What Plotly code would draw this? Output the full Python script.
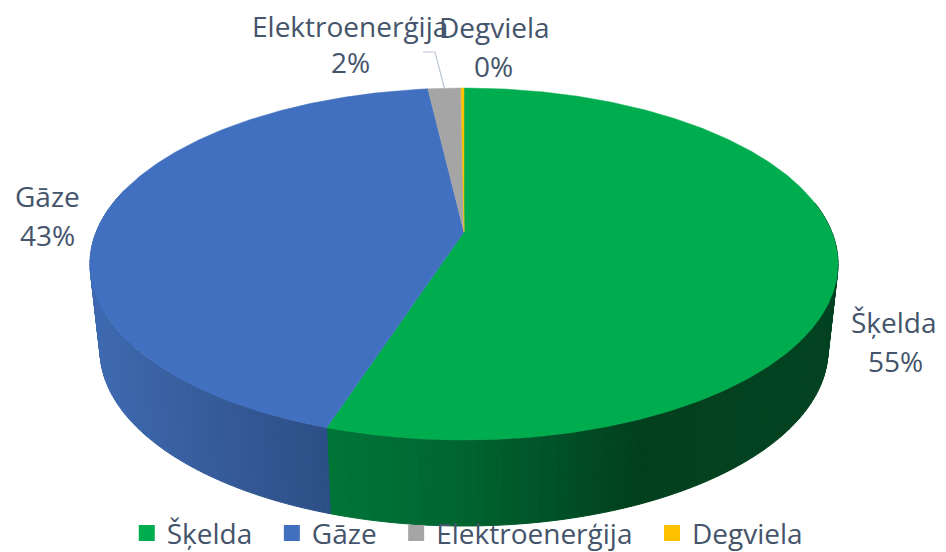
import numpy as np
import plotly.graph_objects as go

categories = ["Šķelda", "Gāze", "Elektroenerģija", "Degviela"]
shares = [55.0, 43.15, 1.7, 0.15]
colors = ["#00AD4E", "#4270C0", "#A5A5A5", "#FFC000"]

# side shading stops: (pixel x, rgb)
side_stops = {
    0: ([330, 450, 550, 640, 750, 840],
        [(0, 117, 56), (0, 102, 50), (0, 82, 40), (2, 63, 29), (3, 66, 32), (3, 66, 32)]),
    1: ([90, 200, 330],
        [(62, 106, 178), (55, 93, 156), (45, 78, 134)]),
}

W, H = 946, 552
K = 2 * 32 / 352          # perspective strength of the tilted disc
CX = 464


def project(theta, rx, cy, ry):
    """Clockwise angle from 12 o'clock on the disc -> page pixels."""
    X, Y = np.sin(theta), np.cos(theta)
    w = 1 + K * Y
    a = rx * np.sqrt(1 - K ** 2)
    x = CX + a * X / w
    u = (ry * Y + ry * K) / w
    return x, cy - u


def top(theta):
    return project(theta, 374, 264, 176)


def bottom(theta):
    return project(theta, 364, 350, 176)


def rgb_at(x, stops):
    xs, cols = stops
    c = [np.interp(x, xs, [col[i] for col in cols]) for i in range(3)]
    return "rgb(%d,%d,%d)" % tuple(round(v) for v in c)


total = sum(shares)
edges = np.cumsum([0] + shares) / total * 2 * np.pi

fig = go.Figure()

# side wall, painted as narrow strips so the shading follows the page x
for i, stops in side_stops.items():
    lo = max(edges[i], np.radians(80))
    hi = min(edges[i + 1], np.radians(285))
    n = max(2, int(np.degrees(hi - lo) / 1.2))
    t = np.linspace(lo, hi, n + 1)
    for a, b in zip(t[:-1], t[1:]):
        seg = np.array([a, b])
        xt, yt = top(seg)
        xb, yb = bottom(seg[::-1])
        col = rgb_at((xt.mean() + xb.mean()) / 2, stops)
        fig.add_trace(go.Scatter(
            x=np.r_[xt, xb, xt[0]], y=np.r_[yt, yb, yt[0]],
            mode="lines", fill="toself", fillcolor=col,
            line=dict(color=col, width=1),
            hoverinfo="skip", showlegend=False))

# top face
cx0, cy0 = CX, 264 - 176 * K
for i, name in enumerate(categories):
    t = np.linspace(edges[i], edges[i + 1], max(3, int(shares[i] * 8)))
    xs, ys = top(t)
    fig.add_trace(go.Scatter(
        x=np.r_[cx0, xs, cx0], y=np.r_[cy0, ys, cy0],
        mode="lines", fill="toself", fillcolor=colors[i],
        line=dict(color=colors[i], width=0.5),
        name=name, hoverinfo="name", showlegend=False))

# leader line to the small slice
mid = (edges[2] + edges[3]) / 2
mx, my = top(np.array([mid]))
fig.add_trace(go.Scatter(
    x=[423, 435, mx[0]], y=[52, 52, my[0]], mode="lines",
    line=dict(color="#BCC6D6", width=1.2),
    hoverinfo="skip", showlegend=False))

# legend (trailing no-break spaces widen the gap between entries)
for name, col in zip(categories, colors):
    fig.add_trace(go.Scatter(
        x=[None], y=[None], mode="markers", name=name + "\u00a0\u00a0",
        marker=dict(symbol="square", size=19, color=col)))

TXT = "#44546A"
FONT = "Open Sans"
label_pos = [(894, 322, 895, 361), (47, 196, 47, 235),
             (350, 26, 350, 62), (494, 27, 493, 66)]
ann = []
for name, s, (x1, y1, x2, y2) in zip(categories, shares, label_pos):
    for txt, ax, ay in ((name, x1, y1), ("%d%%" % round(s / total * 100), x2, y2)):
        ann.append(dict(x=ax, y=ay, text=txt, showarrow=False, xanchor="center",
                        yanchor="middle", font=dict(family=FONT, size=28, color=TXT)))

fig.update_layout(
    width=W, height=H, margin=dict(l=0, r=0, t=0, b=0, autoexpand=False),
    paper_bgcolor="white", plot_bgcolor="white",
    xaxis=dict(range=[0, W], visible=False, fixedrange=True),
    yaxis=dict(range=[H, 0], visible=False, fixedrange=True),
    annotations=ann,
    showlegend=True,
    legend=dict(orientation="h", x=0.134, xanchor="left", y=0.034, yanchor="middle",
                font=dict(family=FONT, size=28, color=TXT),
                bgcolor="rgba(0,0,0,0)", itemsizing="trace",
                traceorder="normal"),
)
fig.write_html("out.html", config={"displayModeBar": False},
               post_script="document.body.style.margin='0';")
